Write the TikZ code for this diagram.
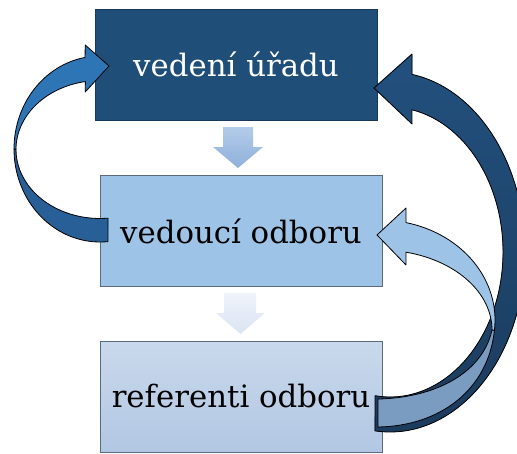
\documentclass[tikz,border=0pt]{standalone}
\usepackage{fontspec}
\setmainfont{DejaVu Serif}
\definecolor{boxA}{HTML}{1F4E79}
\definecolor{boxAline}{HTML}{17385A}
\definecolor{boxB}{HTML}{9DC3E6}
\definecolor{boxline}{HTML}{5B6B7E}
\definecolor{boxCtop}{HTML}{C9D9EC}
\definecolor{boxCbot}{HTML}{B2C7E3}
\definecolor{arrAtop}{HTML}{B3CBE9}
\definecolor{arrAbot}{HTML}{8EB0DB}
\definecolor{arrBtop}{HTML}{EFF3FA}
\definecolor{arrBbot}{HTML}{DBE4F3}
\definecolor{leftA}{HTML}{2E75B6}
\definecolor{leftB}{HTML}{285F96}
\definecolor{darkTop}{HTML}{22507E}
\definecolor{darkBot}{HTML}{1B3B5C}
\definecolor{lightA}{HTML}{9DC3E6}
\definecolor{lightB}{HTML}{7A9CC0}
\begin{document}
\begin{tikzpicture}[x=1pt,y=-1pt,
  boxstyle/.style={minimum width=282pt, minimum height=111pt, inner sep=0pt,
    line width=0.7pt, font=\fontsize{30.8}{36}\selectfont},
  outl/.style={draw=black, line width=0.8pt, line join=round}]
\useasboundingbox (0,0) rectangle (517,453);
\clip (0,0) rectangle (517,453);
% boxes
\node[boxstyle, fill=boxA, draw=boxAline, text=white] (ved) at (236,64.5) {vedení úřadu};
\node[boxstyle, fill=boxB, draw=boxline] (vod) at (241,231) {vedoucí odboru};
\node[boxstyle, top color=boxCtop, bottom color=boxCbot, draw=boxline] (ref) at (241,396.5) {referenti odboru};
% down arrows
\path[top color=arrAtop, bottom color=arrAbot]
  (223,127) -- (253,127) -- (253,147) -- (263,147) -- (238,168) -- (213,147) -- (223,147) -- cycle;
\path[top color=arrBtop, bottom color=arrBbot]
  (224,293) -- (256,293) -- (256,313) -- (265,313) -- (240.5,334) -- (216,313) -- (224,313) -- cycle;
% left curved arrow: back (lower) part
\filldraw[outl, fill=leftB]
  ([shift={(100,149)}]180:86 and 93) arc[start angle=180, end angle=84.7, x radius=86, y radius=93]
  -- ([shift={(100,149.5)}]84.5:84 and 69) arc[start angle=84.5, end angle=180, x radius=84, y radius=69]
  -- cycle;
% left curved arrow: front (upper) part with head
\filldraw[outl, fill=leftA]
  ([shift={(100,149)}]260:86 and 93) arc[start angle=260, end angle=180, x radius=86, y radius=93]
  -- ([shift={(100,149.5)}]180:84 and 69) arc[start angle=180, end angle=260, x radius=84, y radius=69]
  -- (85.2,92) -- (109,66) -- (85.2,45) -- cycle;
% big dark arrow
\filldraw[outl, top color=darkTop, bottom color=darkBot]
  ([shift={(390,252)}]-80.6:135 and 180) arc[start angle=-80.6, end angle=96.4, x radius=135, y radius=180]
  -- ([shift={(390,252)}]97.6:113 and 145) arc[start angle=97.6, end angle=-78.8, x radius=113, y radius=145]
  -- (412,124) -- (374,88) -- (412,54) -- cycle;
% light arrow: front (upper) part with head
\filldraw[outl, fill=lightA]
  ([shift={(380,320)}]-76.9:115 and 100) arc[start angle=-76.9, end angle=6, x radius=115, y radius=100]
  -- ([shift={(380,330)}]0:112 and 80) arc[start angle=0, end angle=-76.6, x radius=112, y radius=80]
  -- (406,265) -- (377,235) -- (406,208) -- cycle;
% light arrow: back (lower) part
\filldraw[outl, fill=lightB]
  (492,330) .. controls (482,375) and (432,398) .. (378,399)
  -- (378,427) .. controls (440,426) and (488,390) .. (494.4,330.5) -- cycle;
\end{tikzpicture}
\end{document}
